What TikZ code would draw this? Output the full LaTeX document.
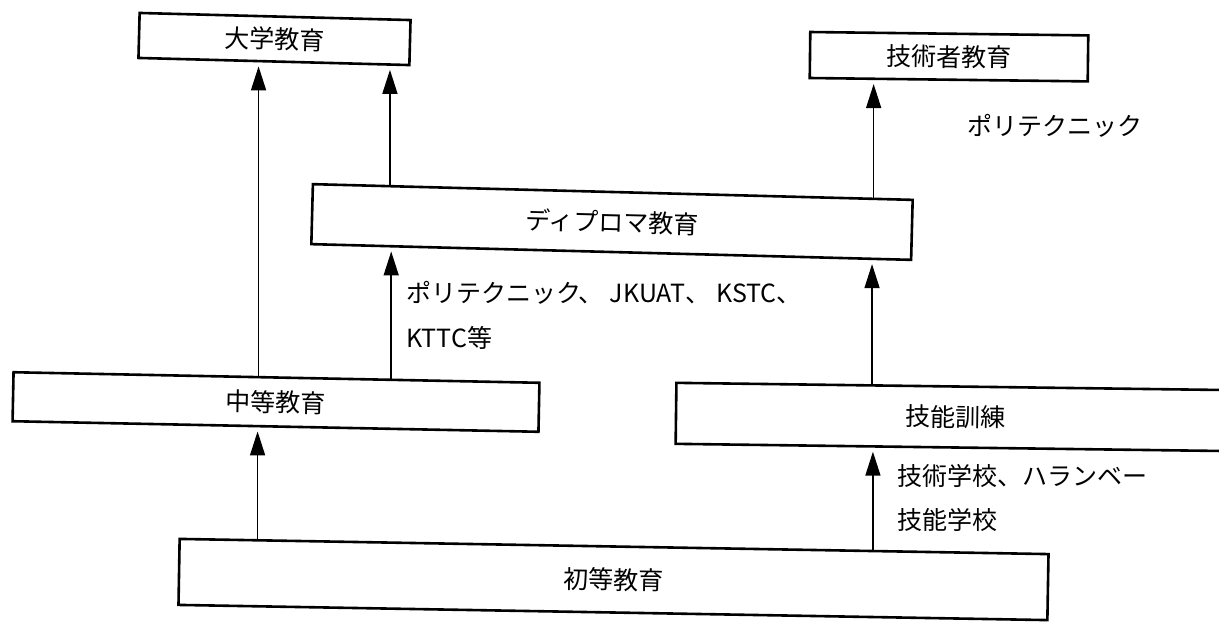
\documentclass[tikz,border=0pt]{standalone}
\usepackage{fontspec}
\setmainfont{Noto Sans CJK JP}
\usetikzlibrary{arrows.meta,calc}
\begin{document}
\begin{tikzpicture}[x=1pt,y=-1pt,
  box/.style={draw, line width=2.6pt, rectangle, inner sep=0pt,
    font=\fontsize{25pt}{30pt}\selectfont},
  arr/.style={line width=1.5pt, -{Triangle[width=15pt,length=24pt]}, shorten >=4pt},
  lbl/.style={anchor=west, inner sep=0pt, font=\fontsize{25pt}{30pt}\selectfont}]
\useasboundingbox (0,0) rectangle (1219,630);
\fill[white] (0,0) rectangle (1219,630);

% boxes
\node[box, minimum width=271pt, minimum height=45pt, rotate=-1.5] (daigaku) at (274.5,39) {大学教育};
\node[box, minimum width=278pt, minimum height=46pt, rotate=-0.7] (gijutsusha) at (949,56.7) {技術者教育};
\node[box, minimum width=600pt, minimum height=60pt, rotate=-1.5] (diploma) at (612,222) {ディプロマ教育};
\node[box, minimum width=526pt, minimum height=49pt, rotate=-1.15] (chuto) at (276,402) {中等教育};
\node[box, minimum width=560pt, minimum height=61pt, rotate=-0.75] (gino) at (956,417) {技能訓練};
\node[box, minimum width=869pt, minimum height=66pt, rotate=-1.0] (shoto) at (613.5,579.5) {初等教育};

% labels
\node[lbl] (poly) at (967,126) {ポリテクニック};
\node[lbl] (l1a) at (406,293) {ポリテクニック、\hspace{6pt}JKUAT、\hspace{6pt}KSTC、};
\node[lbl] (l1b) at (406,338) {KTTC等};
\node[lbl] (l2a) at (897,476) {技術学校、ハランベー};
\node[lbl] (l2b) at (897,520) {技能学校};

% connector points
\coordinate (s1) at ($(chuto.north west)!0.466!(chuto.north east)$);
\coordinate (e1) at ($(daigaku.south west)!0.439!(daigaku.south east)$);
\coordinate (s2) at ($(diploma.north west)!0.13!(diploma.north east)$);
\coordinate (e2) at ($(daigaku.south west)!0.926!(daigaku.south east)$);
\coordinate (s3) at ($(diploma.north west)!0.933!(diploma.north east)$);
\coordinate (e3) at ($(gijutsusha.south west)!0.223!(gijutsusha.south east)$);
\coordinate (s4) at ($(chuto.north west)!0.717!(chuto.north east)$);
\coordinate (e4) at ($(diploma.south west)!0.13!(diploma.south east)$);
\coordinate (s5) at ($(gino.north west)!0.35!(gino.north east)$);
\coordinate (e5) at ($(diploma.south west)!0.933!(diploma.south east)$);
\coordinate (s6) at ($(shoto.north west)!0.0909!(shoto.north east)$);
\coordinate (e6) at ($(chuto.south west)!0.466!(chuto.south east)$);
\coordinate (s7) at ($(shoto.north west)!0.797!(shoto.north east)$);
\coordinate (e7) at ($(gino.south west)!0.35!(gino.south east)$);

\draw[arr] (s1) -- (s1 |- e1);
\draw[arr] (s2) -- (s2 |- e2);
\draw[arr] (s3) -- (s3 |- e3);
\draw[arr] (s4) -- (s4 |- e4);
\draw[arr] (s5) -- (s5 |- e5);
\draw[arr] (s6) -- (s6 |- e6);
\draw[arr] (s7) -- (s7 |- e7);
\end{tikzpicture}
\end{document}
